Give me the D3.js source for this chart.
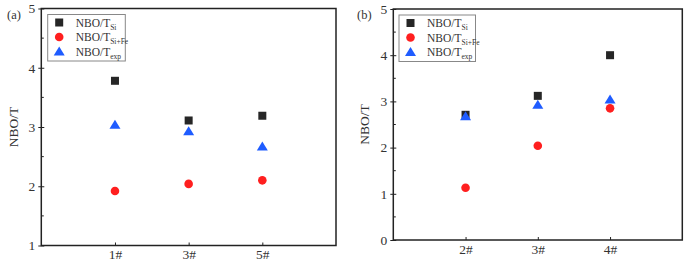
<!DOCTYPE html>
<html>
<head>
<meta charset="utf-8">
<script src="https://cdn.jsdelivr.net/npm/d3@7"></script>
<style>
  body { margin: 0; background: #fff; }
  svg text { font-family: "Liberation Serif", "DejaVu Serif", serif; }
</style>
</head>
<body>
<script>
// Panel (a)
const catsA = ["1#", "3#", "5#"];
const siA = [3.78, 3.11, 3.19];
const siFeA = [1.92, 2.04, 2.10];
const expA = [3.04, 2.93, 2.67];
const yTicksA = [1, 2, 3, 4, 5];

// Panel (b)
const catsB = ["2#", "3#", "4#"];
const siB = [2.71, 3.12, 4.00];
const siFeB = [1.13, 2.04, 2.85];
const expB = [2.68, 2.93, 3.04];
const yTicksB = [0, 1, 2, 3, 4, 5];

const seriesNames = [["NBO/T", "Si"], ["NBO/T", "Si+Fe"], ["NBO/T", "exp"]];
const colors = ["#262626", "#ff1f1f", "#1f5cff"];

const width = 685, height = 266;

const svg = d3.select("body").append("svg")
  .attr("width", width)
  .attr("height", height);

function marker(g, type, cx, cy) {
  if (type === 0) {
    g.append("rect").attr("x", cx - 4).attr("y", cy - 4)
      .attr("width", 8).attr("height", 8).attr("fill", colors[0]);
  } else if (type === 1) {
    g.append("circle").attr("cx", cx).attr("cy", cy).attr("r", 4.3)
      .attr("fill", colors[1]);
  } else {
    g.append("path")
      .attr("d", `M${cx},${cy - 5} L${cx + 5.5},${cy + 4} L${cx - 5.5},${cy + 4} Z`)
      .attr("fill", colors[2]);
  }
}

function panel(opts) {
  const { left, right, top, bottom, cats, series, yDomain, yTicks, tag, legendX, legendW, labelX } = opts;
  const g = svg.append("g");

  const x = d3.scaleLinear().domain([0, 4]).range([left, right]);
  const y = d3.scaleLinear().domain(yDomain).range([bottom, top]);

  // minor ticks (inside)
  const minor = d3.range(yDomain[0] + 0.5, yDomain[1], 1);
  g.selectAll(".minor").data(minor).join("line")
    .attr("x1", left).attr("x2", left + 2.5)
    .attr("y1", d => y(d)).attr("y2", d => y(d))
    .attr("stroke", "#222").attr("stroke-width", 1);

  // y axis
  const yAxis = g.append("g")
    .attr("transform", `translate(${left},0)`)
    .call(d3.axisLeft(y).tickValues(yTicks).tickFormat(d3.format("d")).tickSize(3).tickSizeOuter(0));
  yAxis.attr("font-family", null);
  yAxis.select(".domain").remove();
  yAxis.selectAll(".tick line").attr("x2", 3).attr("x1", -3).attr("stroke", "#222");
  yAxis.selectAll(".tick text")
    .attr("x", -6)
    .attr("font-size", 13.5)
    .attr("fill", "#333");

  // x axis
  const xAxis = g.append("g")
    .attr("transform", `translate(0,${bottom})`)
    .call(d3.axisBottom(x).tickValues([1, 2, 3]).tickFormat((d, i) => cats[i]).tickSize(0).tickSizeOuter(0));
  xAxis.attr("font-family", null);
  xAxis.select(".domain").remove();
  xAxis.selectAll(".tick text")
    .attr("y", 4)
    .attr("dy", "0.71em")
    .attr("font-size", 13.5)
    .attr("fill", "#333");
  xAxis.selectAll(".tick").append("line")
    .attr("y1", 0).attr("y2", -3).attr("stroke", "#222");

  // frame
  g.append("rect")
    .attr("x", left).attr("y", top)
    .attr("width", right - left).attr("height", bottom - top)
    .attr("fill", "none").attr("stroke", "#222").attr("stroke-width", 1.5);

  // y label
  g.append("text")
    .attr("transform", `translate(${labelX},${(top + bottom) / 2}) rotate(-90)`)
    .attr("text-anchor", "middle")
    .attr("dy", "0.35em")
    .attr("font-size", 13.5)
    .attr("fill", "#333")
    .text("NBO/T");

  // panel tag
  g.append("text")
    .attr("x", tag.x).attr("y", tag.y)
    .attr("font-size", 12.5)
    .attr("fill", "#333")
    .text(tag.text);

  // data markers
  series.forEach((vals, s) => {
    vals.forEach((v, i) => marker(g, s, x(i + 1), y(v)));
  });

  // legend
  const lg = g.append("g");
  lg.append("rect")
    .attr("x", legendX).attr("y", top + 6)
    .attr("width", legendW).attr("height", 46.5)
    .attr("fill", "#fff").attr("stroke", "#888").attr("stroke-width", 1);
  seriesNames.forEach((n, i) => {
    const cy = top + 14 + i * 14.5;
    marker(lg, i, legendX + 11.5, cy);
    const t = lg.append("text")
      .attr("x", legendX + 28).attr("y", cy + 4)
      .attr("font-size", 11.5)
      .attr("fill", "#333");
    t.append("tspan").text(n[0]);
    t.append("tspan").attr("dy", 3).attr("font-size", 7.5).text(n[1]);
  });
}

panel({
  left: 41.3, right: 336, top: 8.5, bottom: 245.5,
  cats: catsA, series: [siA, siFeA, expA],
  yDomain: [1, 5], yTicks: yTicksA,
  tag: { x: 7, y: 19, text: "(a)" },
  legendX: 47.7, legendW: 77.6, labelX: 13
});

panel({
  left: 393.3, right: 682.3, top: 9, bottom: 240,
  cats: catsB, series: [siB, siFeB, expB],
  yDomain: [0, 5], yTicks: yTicksB,
  tag: { x: 357, y: 19, text: "(b)" },
  legendX: 399, legendW: 76.5, labelX: 364
});
</script>
</body>
</html>
